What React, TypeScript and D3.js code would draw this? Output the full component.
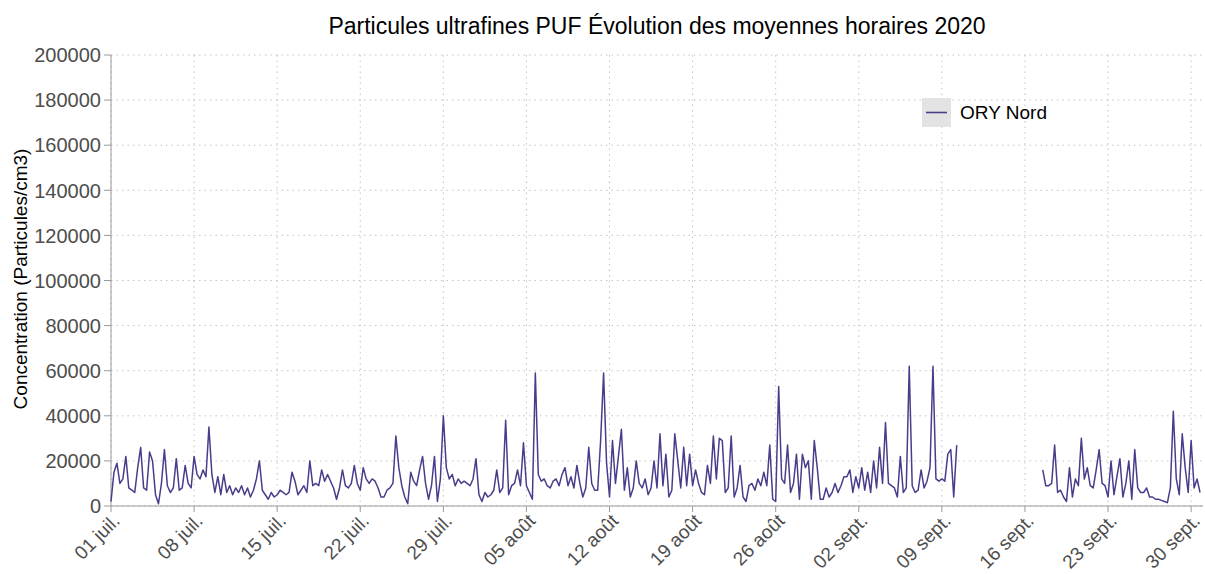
import React, { useRef, useEffect } from 'react'
import * as d3 from 'd3'

// Valeurs, en milliers de particules/cm3, un point toutes les 6 h (0h, 6h, 12h, 18h)
const julyValues: (number | null)[] = [
  2, 15, 19, 10, 12, 22, 8, 7, 6, 17, 26, 8, 7, 24, 20, 5, 1, 10, 25, 9,
  6, 8, 21, 7, 8, 18, 10, 8, 22, 14, 12, 16, 13, 35, 14, 6, 13, 5, 14, 6,
  9, 5, 8, 6, 9, 5, 8, 4, 7, 12, 20, 7, 5, 3, 6, 4, 5, 7, 6, 5,
  6, 15, 11, 5, 7, 9, 6, 20, 9, 10, 9, 16, 11, 14, 11, 8, 3, 8, 16, 9,
  8, 10, 18, 10, 7, 17, 12, 10, 12, 11, 8, 4, 4, 7, 8, 10, 31, 17, 9, 4,
  1, 15, 11, 9, 16, 22, 10, 3, 9, 22, 2, 12, 40, 17, 12, 14, 9, 12, 10, 11,
  10, 9, 12, 21
]

const augustValues: (number | null)[] = [
  5, 2, 6, 4, 5, 7, 16, 6, 8, 38, 5, 9, 10, 16, 9, 28, 9, 6, 3, 59,
  14, 11, 12, 9, 8, 11, 12, 9, 14, 17, 9, 13, 8, 18, 10, 4, 8, 26, 10, 7,
  7, 29, 59, 19, 4, 29, 10, 22, 34, 7, 17, 4, 8, 20, 10, 8, 12, 5, 8, 20,
  8, 32, 9, 23, 4, 7, 32, 20, 8, 26, 9, 23, 9, 16, 10, 6, 5, 18, 10, 31,
  12, 30, 29, 6, 8, 31, 4, 8, 18, 4, 2, 9, 10, 7, 12, 9, 15, 9, 27, 3,
  2, 53, 12, 10, 27, 6, 10, 23, 3, 23, 17, 20, 3, 29, 17, 3, 3, 8, 4, 6,
  10, 6, 9, 13
]

const septemberValues: (number | null)[] = [
  13, 16, 6, 13, 8, 17, 7, 15, 6, 20, 8, 26, 10, 37, 10, 9, 8, 4, 22, 6,
  8, 62, 9, 6, 7, 16, 8, 11, 17, 62, 12, 11, 12, 11, 23, 25, 4, 27, null, null,
  null, null, null, null, null, null, null, null, null, null, null, null,
  null, null, null, null, null, null, null, null, null, null, null, null,
  null, null, 16, 9, 9, 10, 27, 6, 7, 4, 2, 17, 4, 12, 9, 30, 12, 17, 9, 8,
  16, 25, 10, 9, 4, 20, 5, 13, 21, 4, 10, 20, 3, 25, 8, 6, 6, 8, 4, 4,
  3, 3, 2.5, 2, 1.5, 8, 42, 12, 5, 32, 17, 6, 29, 8, 12, 6
]

const seriesName = 'ORY Nord'
const chartTitle = 'Particules ultrafines PUF Évolution des moyennes horaires 2020'
const yTitle = 'Concentration (Particules/cm3)'

const tickDates = [
  '2020-07-01', '2020-07-08', '2020-07-15', '2020-07-22', '2020-07-29',
  '2020-08-05', '2020-08-12', '2020-08-19', '2020-08-26', '2020-09-02',
  '2020-09-09', '2020-09-16', '2020-09-23', '2020-09-30'
]
const yTicks = [0, 20000, 40000, 60000, 80000, 100000, 120000, 140000, 160000, 180000, 200000]

interface Point {
  date: Date
  value: number | null
}

const frLocale = d3.timeFormatLocale({
  dateTime: '%A %e %B %Y à %X',
  date: '%d/%m/%Y',
  time: '%H:%M:%S',
  periods: ['AM', 'PM'],
  days: ['dimanche', 'lundi', 'mardi', 'mercredi', 'jeudi', 'vendredi', 'samedi'],
  shortDays: ['dim.', 'lun.', 'mar.', 'mer.', 'jeu.', 'ven.', 'sam.'],
  months: ['janvier', 'février', 'mars', 'avril', 'mai', 'juin', 'juillet', 'août', 'septembre', 'octobre', 'novembre', 'décembre'],
  shortMonths: ['janv.', 'févr.', 'mars', 'avr.', 'mai', 'juin', 'juil.', 'août', 'sept.', 'oct.', 'nov.', 'déc.']
})

const W = 1205
const H = 574
const FONT = 'Liberation Sans, Arial, sans-serif'
const LINE_COLOR = '#483D8B'

const PufChart: React.FC = () => {
  const svgRef = useRef<SVGSVGElement>(null)

  useEffect(() => {
    if (!svgRef.current) return
    const svg = d3.select(svgRef.current)
    svg.selectAll('*').remove()

    const start = new Date(2020, 6, 1)
    const data: Point[] = [...julyValues, ...augustValues, ...septemberValues].map((v, i) => ({
      date: d3.timeHour.offset(start, i * 6),
      value: v == null ? null : v * 1000
    }))

    const x = d3.scaleTime().domain([start, new Date(2020, 9, 1)]).range([111, 1203])
    const y = d3.scaleLinear().domain([0, 200000]).range([506, 55])
    const parse = d3.timeParse('%Y-%m-%d')
    const ticks = tickDates.map(d => parse(d) as Date)
    const fmt = frLocale.format('%d %b')

    // grille en pointillés
    const grid = svg.append('g')
      .attr('stroke', '#c4c4c4')
      .attr('stroke-width', 1)
      .attr('stroke-dasharray', '1.5,4')
    grid.selectAll('.hg').data(yTicks).enter().append('line')
      .attr('x1', 111).attr('x2', 1203)
      .attr('y1', d => y(d)).attr('y2', d => y(d))
    grid.selectAll('.vg').data(ticks).enter().append('line')
      .attr('x1', d => x(d)).attr('x2', d => x(d))
      .attr('y1', 55).attr('y2', 506)

    // axes
    const axisColor = '#9a9a9a'
    svg.append('line').attr('x1', 111).attr('x2', 111).attr('y1', 55).attr('y2', 506)
      .attr('stroke', axisColor)
    svg.append('line').attr('x1', 111).attr('x2', 1203).attr('y1', 506).attr('y2', 506)
      .attr('stroke', axisColor)

    const yt = svg.append('g').selectAll('g').data(yTicks).enter().append('g')
      .attr('transform', d => `translate(0,${y(d)})`)
    yt.append('line').attr('x1', 104).attr('x2', 111).attr('stroke', axisColor)
    yt.append('text')
      .attr('x', 101).attr('dy', '0.36em')
      .attr('text-anchor', 'end')
      .style('font-family', FONT).style('font-size', '20px').style('fill', '#4d4d4d')
      .text(d => String(d))

    const xt = svg.append('g').selectAll('g').data(ticks).enter().append('g')
      .attr('transform', d => `translate(${x(d)},506)`)
    xt.append('line').attr('y1', 0).attr('y2', 6).attr('stroke', axisColor)
    xt.append('text')
      .attr('transform', 'translate(10,16) rotate(-45)')
      .attr('text-anchor', 'end')
      .style('font-family', FONT).style('font-size', '19px').style('fill', '#4d4d4d')
      .text(d => fmt(d))

    // série
    const line = d3.line<Point>()
      .defined(d => d.value != null)
      .x(d => x(d.date))
      .y(d => y(d.value as number))
    svg.append('path')
      .datum(data)
      .attr('d', line)
      .attr('fill', 'none')
      .attr('stroke', LINE_COLOR)
      .attr('stroke-width', 1.5)
      .attr('stroke-linejoin', 'round')

    // légende
    const legend = svg.append('g').attr('transform', 'translate(922,98)')
    legend.append('rect').attr('width', 29).attr('height', 29).attr('fill', '#e3e3e3')
    legend.append('line').attr('x1', 4).attr('x2', 25).attr('y1', 14.5).attr('y2', 14.5)
      .attr('stroke', LINE_COLOR).attr('stroke-width', 1.6)
    legend.append('text')
      .attr('x', 38).attr('y', 14.5).attr('dy', '0.36em')
      .style('font-family', FONT).style('font-size', '19px').style('fill', '#000')
      .text(seriesName)

    // titres
    svg.append('text')
      .attr('x', 657).attr('y', 34)
      .attr('text-anchor', 'middle')
      .style('font-family', FONT).style('font-size', '23px').style('fill', '#000')
      .text(chartTitle)
    svg.append('text')
      .attr('transform', 'translate(27,279) rotate(-90)')
      .attr('text-anchor', 'middle')
      .style('font-family', FONT).style('font-size', '19px').style('fill', '#000')
      .text(yTitle)
  }, [])

  return (
    <svg
      ref={svgRef}
      width={W}
      height={H}
      style={{ position: 'absolute', left: 0, top: 0, background: '#fff' }}
    />
  )
}

export default function App() {
  return <PufChart />
}
